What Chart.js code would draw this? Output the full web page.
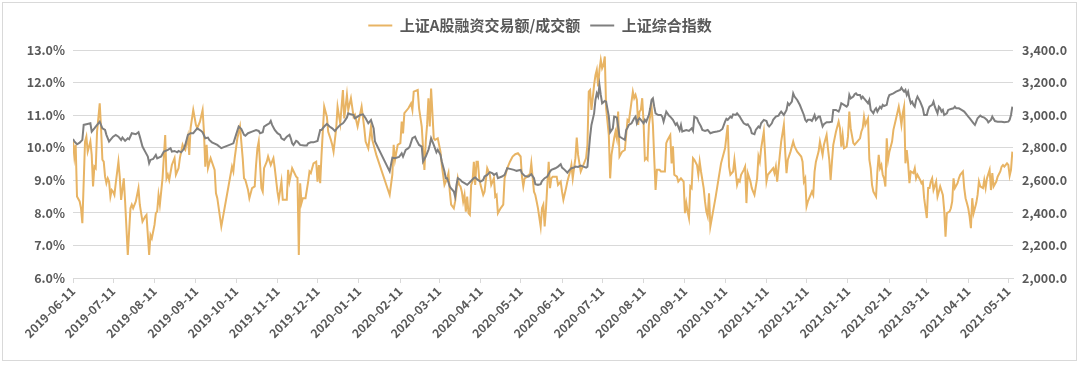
<!DOCTYPE html>
<html>
<head>
<meta charset="utf-8">
<script src="https://cdn.jsdelivr.net/npm/chart.js@4.4.1/dist/chart.umd.min.js"></script>
<style>
  html, body { margin: 0; padding: 0; background: #ffffff; }
  #wrap { position: relative; width: 1080px; height: 365px; }
  #frame { position: absolute; left: 2px; top: 2px; width: 1073px; height: 357px; border: 1px solid #d9d9d9; pointer-events: none; }
</style>
</head>
<body>
<div id="wrap">
  <canvas id="c" width="1080" height="365"></canvas>
  <div id="frame"></div>
</div>
<script>
// ---------- DATA ----------
const baseDate = '2019-06-11';
const seriesNames = ['上证A股融资交易额/成交额', '上证综合指数'];
const tickLabels = ['2019-06-11','2019-07-11','2019-08-11','2019-09-11','2019-10-11','2019-11-11','2019-12-11',
  '2020-01-11','2020-02-11','2020-03-11','2020-04-11','2020-05-11','2020-06-11','2020-07-11','2020-08-11',
  '2020-09-11','2020-10-11','2020-11-11','2020-12-11','2021-01-11','2021-02-11','2021-03-11','2021-04-11','2021-05-11'];

// days since baseDate / ratio (%)
const ratioDays = [0,1,2,3,5,6,7,9,10,11,12,13,14,15,16,17,18,20,21,22,23,24,25,26,27,28,29,30,31,32,34,35,36,38,39,41,43,44,45,47,49,50,52,54,55,57,58,59,61,62,63,64,65,67,69,70,71,72,74,76,77,79,80,82,83,84,86,87,88,90,92,93,95,97,98,99,100,101,103,106,107,108,111,119,120,121,123,125,127,128,129,131,132,134,136,137,138,
139,141,142,143,145,146,148,150,151,153,154,156,157,160,161,162,164,167,168,169,170,171,172,174,176,177,178,180,182,183,184,185,186,188,190,191,193,194,195,197,198,200,202,203,205,206,208,210,211,213,216,218,219,221,223,224,227,237,239,240,241,243,245,246,247,248,251,253,254,255,258,259,261,262,263,264,265,266,267,268,270,271,273,275,276,278,
280,281,282,283,285,286,288,289,290,291,292,293,294,295,296,297,298,299,300,301,302,303,304,305,307,308,310,312,313,315,316,317,318,320,322,323,325,327,329,331,333,335,336,337,338,340,341,342,343,345,346,347,348,350,351,352,353,354,355,356,357,358,359,362,363,365,366,367,369,370,372,373,374,375,376,377,378,380,381,382,384,385,386,387,388,389,390,391,392,393,394,395,396,397,398,399,401,402,403,405,406,407,408,409,411,413,415,416,417,419,420,
421,422,423,424,425,426,427,428,429,430,431,433,434,435,436,437,439,440,443,444,445,447,448,449,450,452,453,454,455,457,458,459,460,461,462,463,464,465,467,468,469,470,472,473,474,475,476,477,479,481,483,485,488,490,491,492,494,495,497,498,499,500,502,503,504,505,507,508,509,510,512,513,514,515,517,518,519,520,522,524,525,526,527,529,530,532,533,534,535,537,539,540,542,545,546,547,548,549,550,552,553,554,555,556,558,559,561,
562,564,565,566,567,568,569,571,573,574,575,576,577,579,580,581,582,584,585,586,587,589,590,591,592,593,594,595,596,597,598,599,601,602,603,604,605,606,607,608,609,610,611,613,614,616,618,619,620,621,622,623,624,625,626,627,629,630,631,632,634,635,636,637,639,640,641,642,643,644,646,647,648,649,651,652,653,654,656,657,658,659,660,662,663,664,666,667,668,669,670,671,672,673,674,676,677,678,679,681,682,683,684,686,687,688,689,691,692,694,695,696,697,699,700,701,702,703];
const ratioValues = [10.19,9.73,10.09,8.50,8.35,8.14,7.68,10.19,10.34,9.88,10.03,10.19,9.78,8.81,9.42,9.37,10.49,11.36,10.60,9.63,9.57,9.11,8.91,9.06,8.96,8.50,8.70,8.65,8.55,8.91,9.57,9.11,8.40,9.06,8.35,6.71,8.14,8.25,8.14,8.35,8.76,8.25,7.73,7.89,7.94,6.71,7.32,7.22,7.63,7.99,8.04,8.55,8.25,9.06,10.39,9.06,9.17,9.01,9.47,9.68,9.17,9.37,9.68,10.09,9.98,9.93,10.34,9.78,10.60,11.16,10.70,10.60,10.80,11.16,10.49,9.42,10.09,9.37,9.68,9.32,8.60,8.45,7.58,9.42,9.27,9.68,10.29,10.65,9.68,9.06,9.01,8.70,8.45,8.76,8.81,9.47,9.98,
10.19,8.76,8.65,9.37,9.57,9.73,9.47,9.68,9.37,8.65,8.40,8.96,8.40,8.40,9.32,8.96,9.37,9.11,9.08,6.71,8.91,8.30,8.45,8.45,8.96,9.27,9.22,9.52,9.57,8.96,9.47,8.91,9.78,11.26,10.95,10.49,10.24,10.09,9.88,10.60,11.26,10.75,11.77,10.90,11.62,11.16,11.52,10.95,11.01,10.65,11.26,10.60,10.19,9.98,10.65,10.24,9.78,8.55,9.17,10.09,9.63,10.09,10.14,10.80,10.44,11.06,11.21,11.36,11.16,11.72,11.77,11.21,10.65,9.98,9.32,10.19,10.70,11.52,10.65,11.82,10.29,10.24,10.29,9.88,9.47,8.86,
9.06,9.22,8.65,8.25,8.14,8.35,9.06,8.86,8.81,8.65,8.35,8.55,8.04,8.50,7.99,7.94,8.86,8.96,9.57,8.86,9.57,9.57,9.06,8.86,8.55,8.65,9.37,9.17,8.86,9.06,8.50,8.55,7.99,8.14,8.25,9.06,9.37,9.57,9.73,9.80,9.83,9.73,9.11,8.81,9.06,9.11,9.17,9.17,9.52,8.65,8.55,8.35,8.14,7.58,8.14,8.25,7.58,8.14,8.86,9.57,8.76,9.06,9.11,9.11,8.86,8.96,8.65,8.40,8.76,8.96,9.27,9.47,9.06,9.37,9.68,10.31,9.78,9.27,9.37,9.47,9.68,10.09,11.72,11.77,11.16,11.52,11.93,12.23,12.39,11.88,12.39,12.69,12.44,12.54,12.80,11.21,10.39,9.06,9.78,10.29,10.49,10.29,11.11,9.73,9.88,9.93,10.85,10.80,11.11,11.72,11.52,
11.62,11.47,10.70,11.11,11.16,11.52,10.80,9.63,9.68,9.63,10.70,11.26,10.70,9.68,8.70,9.32,9.32,9.27,9.27,10.14,10.24,10.39,9.52,10.04,9.17,9.11,8.96,9.01,9.06,8.96,7.99,8.30,8.04,7.84,8.81,8.76,9.68,9.63,9.47,9.17,9.57,9.27,8.76,8.35,8.04,7.89,8.60,7.58,8.04,8.50,9.01,9.52,9.98,10.70,9.42,9.17,9.27,9.63,8.86,9.01,8.96,9.17,9.32,9.42,8.30,9.22,8.96,8.76,8.65,8.55,9.06,9.73,9.57,9.98,10.49,9.78,8.96,9.17,9.27,9.37,9.22,9.42,8.96,9.78,10.19,10.70,9.88,9.22,9.63,9.88,10.19,10.04,9.88,9.73,9.57,8.96,9.06,8.20,8.35,8.55,8.65,8.55,9.27,9.57,9.88,10.19,9.78,
10.09,10.39,9.98,9.63,9.01,9.57,10.09,10.49,10.80,10.60,10.03,10.39,9.98,10.03,10.34,11.11,10.60,10.14,10.09,10.14,10.19,10.29,10.49,10.60,10.95,10.70,10.80,10.90,9.63,9.37,8.86,8.65,8.50,9.27,9.78,9.37,9.47,9.17,9.06,8.81,10.29,9.63,9.88,10.19,10.55,10.90,11.26,11.01,10.70,11.06,11.26,9.52,9.93,9.52,8.91,9.27,9.22,9.37,9.06,9.17,9.01,8.91,8.96,8.45,7.84,8.76,8.76,8.96,9.06,8.70,8.96,8.50,8.65,8.81,8.55,8.09,7.27,7.99,8.04,8.14,8.35,9.06,8.76,8.91,9.06,9.17,9.27,8.76,8.45,8.30,8.14,7.89,7.53,8.45,7.99,8.30,8.55,8.96,8.81,8.76,9.01,8.76,9.06,9.32,8.70,9.22,8.81,8.96,9.11,9.27,9.42,9.47,9.42,9.52,9.47,9.14,9.32,9.88];

// days since baseDate / index level
const indexDays = [0,1,3,5,7,8,10,13,14,16,17,19,20,22,24,25,27,28,30,32,34,36,37,39,41,42,44,47,49,50,52,54,56,57,58,60,62,63,66,68,71,73,74,76,78,79,81,83,84,86,88,90,92,93,96,97,99,101,102,104,106,108,111,120,122,124,126,128,129,131,134,137,
139,140,142,143,145,147,148,149,151,153,155,156,158,160,162,163,164,165,167,168,170,173,175,176,178,180,183,185,186,188,190,192,194,196,198,200,202,203,205,206,208,210,211,213,215,217,219,221,223,225,226,237,239,241,244,246,247,249,251,252,254,256,257,259,261,262,264,266,267,268,270,272,273,275,276,278,279,
280,282,283,285,286,287,288,290,291,293,295,297,300,301,303,305,307,308,310,312,314,315,317,318,321,323,325,327,330,332,335,336,338,340,341,343,345,346,348,350,351,353,355,357,358,361,363,365,366,368,370,371,373,375,376,378,380,382,384,385,386,387,388,390,391,392,393,394,395,396,398,399,401,402,404,405,407,408,409,411,413,414,415,416,418,420,
421,422,423,424,425,427,428,429,431,432,433,434,435,436,438,440,441,442,444,446,447,449,451,452,454,455,456,457,459,461,463,464,465,467,468,470,471,473,475,477,479,482,484,486,488,489,490,492,493,494,496,497,499,500,502,504,505,507,508,510,511,513,514,515,517,519,520,521,523,524,526,528,529,530,532,534,535,536,538,539,540,542,544,545,547,548,549,550,552,553,554,555,556,558,559,561,
562,564,566,568,569,571,573,574,575,577,579,580,581,582,584,585,586,587,589,590,591,592,594,595,596,597,599,600,601,602,604,605,606,607,609,610,611,614,616,619,620,621,622,623,624,625,626,627,628,629,630,631,632,634,635,636,637,639,640,641,643,644,645,647,648,649,650,651,652,654,655,657,659,660,661,663,665,667,669,670,671,672,674,675,676,677,679,680,682,684,685,687,688,689,690,692,695,697,700,701,702,703];
const indexValues = [2854,2838,2821,2831,2848,2940,2944,2950,2899,2919,2930,2950,2960,2919,2909,2879,2838,2848,2868,2879,2868,2848,2862,2842,2858,2852,2889,2883,2895,2868,2807,2776,2746,2705,2725,2731,2756,2735,2746,2776,2787,2797,2776,2780,2772,2780,2772,2793,2817,2879,2889,2889,2909,2919,2903,2895,2858,2862,2848,2833,2825,2817,2797,2827,2879,2930,2915,2879,2874,2889,2899,2909,
2903,2889,2895,2930,2940,2950,2964,2940,2909,2889,2879,2858,2848,2868,2879,2858,2827,2817,2842,2838,2817,2813,2813,2827,2833,2833,2842,2909,2909,2930,2946,2930,2919,2903,2923,2940,2950,2960,2985,3011,3005,3001,2981,2991,3001,3005,2981,2950,2970,2919,2838,2654,2739,2735,2743,2766,2746,2787,2797,2807,2858,2868,2848,2817,2807,2715,2746,2787,2817,2858,2817,2772,2787,2756,2715,2654,2613,
2613,2562,2551,2531,2500,2572,2613,2602,2592,2582,2572,2588,2613,2617,2602,2592,2602,2623,2633,2650,2643,2633,2643,2613,2623,2633,2674,2670,2664,2658,2664,2643,2627,2623,2623,2637,2613,2576,2572,2576,2596,2613,2623,2654,2664,2674,2684,2699,2678,2664,2647,2658,2674,2678,2684,2682,2690,2684,2678,2684,2776,2868,2940,3011,3093,3134,3114,3185,3124,3073,3087,3083,2992,2895,2919,2991,2985,2930,2868,2858,2848,2909,2923,2940,2950,2981,
2991,2950,2971,2981,2971,2950,2971,2960,3001,3042,3093,3103,3052,3011,3001,3001,2991,2960,3022,2997,2991,2971,2940,2950,2909,2940,2899,2903,2909,2903,2919,2903,2991,2981,2960,2930,2909,2903,2909,2889,2895,2899,2903,2915,2960,2977,2971,2991,2985,3005,3001,3011,2991,2977,2950,2940,2944,2919,2889,2883,2909,2930,2923,2950,2971,2964,2940,2930,2950,2971,2991,2997,3011,3022,3001,3032,3073,3062,3083,3134,3114,3093,3062,3042,3001,2971,2960,2971,2971,2964,2981,3001,2971,2991,2991,2930,
2944,2956,2956,2960,3032,3032,3022,3042,3073,3063,3052,3063,3124,3103,3114,3128,3134,3124,3124,3103,3114,3103,3083,3073,3093,3032,3011,3032,3042,3022,3052,3042,3063,3056,3063,3103,3124,3134,3144,3155,3169,3155,3144,3155,3124,3144,3103,3073,3083,3063,3052,3093,3114,3083,3063,3042,3001,3001,3032,3052,3063,3083,3052,3011,3052,3042,3022,3032,3001,3011,3032,3038,3042,3052,3042,3042,3032,3022,3001,2991,2981,2971,2950,2940,2960,2981,2997,2991,2985,2971,2956,2971,2991,2977,2964,2960,2960,2956,2960,2971,3001,3052];

// ---------- CHART ----------
const DAY = 86400000;
const toDay = s => Math.round((Date.parse(s + 'T00:00:00Z') - Date.parse(baseDate + 'T00:00:00Z')) / DAY);
const tickDays = tickLabels.map(toDay);

const textColor = '#595959';
const gridColor = '#d9d9d9';
Chart.defaults.font.family = "'Noto Sans CJK SC', 'Noto Sans', sans-serif";
Chart.defaults.color = textColor;

// adds a little space between the legend and the plot area
const legendGap = {
  id: 'legendGap',
  afterInit(chart) {
    const lg = chart.legend;
    if (!lg) return;
    const fit = lg.fit;
    lg.fit = function () { fit.call(this); this.height += 7; };
  }
};

new Chart(document.getElementById('c'), {
  type: 'line',
  plugins: [legendGap],
  data: {
    datasets: [
      {
        label: seriesNames[0],
        data: ratioDays.map((d, i) => ({ x: d, y: ratioValues[i] })),
        borderColor: '#e8b464',
        backgroundColor: '#e8b464',
        borderWidth: 2,
        pointRadius: 0,
        tension: 0,
        yAxisID: 'y',
        order: 1
      },
      {
        label: seriesNames[1],
        data: indexDays.map((d, i) => ({ x: d, y: indexValues[i] })),
        borderColor: '#7f7f7f',
        backgroundColor: '#7f7f7f',
        borderWidth: 2,
        pointRadius: 0,
        tension: 0,
        yAxisID: 'y1',
        order: 0
      }
    ]
  },
  options: {
    responsive: false,
    animation: false,
    events: [],
    layout: { padding: { top: 8, left: 0, right: 0, bottom: 0 } },
    plugins: {
      tooltip: { enabled: false },
      legend: {
        position: 'top',
        labels: {
          usePointStyle: true,
          pointStyle: 'line',
          pointStyleWidth: 24,
          padding: 10,
          color: textColor,
          font: { size: 15, weight: 'bold' },
          sort: (a, b) => a.datasetIndex - b.datasetIndex
        }
      }
    },
    scales: {
      x: {
        type: 'linear',
        min: 0,
        max: 703.5,
        afterBuildTicks: s => { s.ticks = tickDays.map(v => ({ value: v })); },
        afterFit: s => { s.height = 87; },
        grid: { display: true, drawOnChartArea: false, drawTicks: true, tickLength: 5, color: gridColor },
        border: { display: true, color: gridColor },
        ticks: {
          autoSkip: false,
          maxRotation: 45,
          minRotation: 45,
          padding: 1,
          color: textColor,
          font: { size: 12, weight: 'bold' },
          callback: (v, i) => tickLabels[i]
        }
      },
      y: {
        position: 'left',
        min: 6,
        max: 13,
        afterFit: s => { s.width = 73; },
        grid: { color: gridColor, drawTicks: false },
        border: { display: false },
        ticks: {
          stepSize: 1,
          padding: 8,
          color: textColor,
          font: { size: 12.5, weight: 'bold' },
          callback: v => v.toFixed(1) + '%'
        }
      },
      y1: {
        position: 'right',
        min: 2000,
        max: 3400,
        afterFit: s => { s.width = 67; },
        grid: { display: false, drawTicks: false },
        border: { display: false },
        ticks: {
          stepSize: 200,
          padding: 9,
          color: textColor,
          font: { size: 12.5, weight: 'bold' },
          callback: v => v.toLocaleString('en-US', { minimumFractionDigits: 1, maximumFractionDigits: 1 })
        }
      }
    }
  }
});
</script>
</body>
</html>
